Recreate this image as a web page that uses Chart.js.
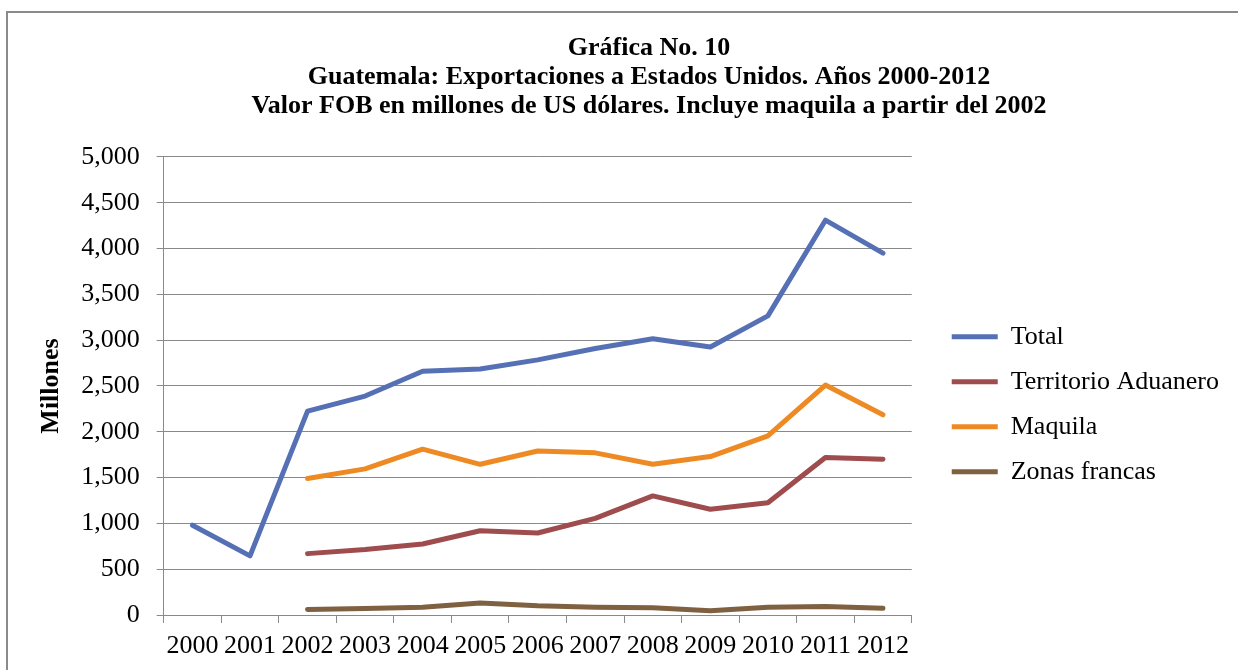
<!DOCTYPE html>
<html>
<head>
<meta charset="utf-8">
<script src="https://cdn.jsdelivr.net/npm/chart.js@4.4.1/dist/chart.umd.min.js"></script>
<style>
  html, body { margin: 0; padding: 0; background: #fff; }
  #wrap { width: 1238px; height: 670px; overflow: hidden; position: relative; }
  #myChart { display: block; }
</style>
</head>
<body>
<div id="wrap"><canvas id="myChart" width="1298" height="670"></canvas></div>
<script>
// Data (millones de US$)
var years = ['2000', '2001', '2002', '2003', '2004', '2005', '2006', '2007', '2008', '2009', '2010', '2011', '2012'];
var total = [980, 645, 2225, 2390, 2660, 2685, 2785, 2910, 3015, 2925, 3265, 4310, 3950];
var territorio = [null, null, 670, 715, 775, 920, 895, 1055, 1300, 1155, 1225, 1720, 1700];
var maquila = [null, null, 1490, 1595, 1810, 1645, 1790, 1770, 1645, 1730, 1955, 2510, 2185];
var zonas = [null, null, 60, 70, 85, 130, 100, 85, 80, 47, 85, 92, 73];
var yMin = 0, yMax = 5000, yStep = 500;

var titleLines = [
    'Gráfica No. 10',
    'Guatemala: Exportaciones a Estados Unidos. Años 2000-2012',
    'Valor FOB en millones de US dólares. Incluye maquila a partir del 2002'
];

var serif = "'Liberation Serif', 'Times New Roman', serif";
var gridGray = '#898989';

function series(label, data, color) {
    return {
        label: label,
        data: data,
        borderColor: color,
        backgroundColor: color,
        borderWidth: 5,
        borderCapStyle: 'round',
        borderJoinStyle: 'round',
        pointRadius: 0,
        pointHoverRadius: 0,
        tension: 0,
        fill: false
    };
}

// outer frame of the original figure
var framePlugin = {
    id: 'frame',
    beforeDraw: function(chart) {
        var ctx = chart.ctx;
        ctx.save();
        ctx.fillStyle = '#fff';
        ctx.fillRect(0, 0, chart.width, chart.height);
        ctx.strokeStyle = '#8a8a8a';
        ctx.lineWidth = 2;
        ctx.beginPath();
        ctx.moveTo(7, chart.height);
        ctx.lineTo(7, 12);
        ctx.lineTo(chart.width, 12);
        ctx.stroke();
        ctx.restore();
    }
};

// legend box: full width for the labels plus some room on its right
var legendShift = {
    id: 'legendShift',
    beforeLayout: function(chart) {
        var lg = chart.legend;
        if (lg && !lg._shifted) {
            var fit = lg.fit;
            lg.fit = function() {
                fit.call(this);
                var c = this.ctx;
                var labels = this.options.labels;
                c.save();
                c.font = labels.font.size + 'px ' + serif;
                var w = 0;
                this.legendItems.forEach(function(it) {
                    w = Math.max(w, c.measureText(it.text).width);
                });
                c.restore();
                this.width = labels.padding + labels.pointStyleWidth + labels.font.size / 2 + w + 10 + 37;
            };
            lg._shifted = true;
        }
    }
};

var ctx = document.getElementById('myChart').getContext('2d');
var myChart = new Chart(ctx, {
    type: 'line',
    data: {
        labels: years,
        datasets: [
            series('Total', total, '#5670B5'),
            series('Territorio Aduanero', territorio, '#9F4C4E'),
            series('Maquila', maquila, '#EE8A24'),
            series('Zonas francas', zonas, '#7F6041')
        ]
    },
    options: {
        responsive: false,
        animation: false,
        spanGaps: false,
        layout: { padding: { left: 32, right: 32, top: 0, bottom: 1 } },
        plugins: {
            tooltip: { enabled: false },
            title: {
                display: true,
                text: titleLines,
                color: '#000',
                font: { family: serif, size: 26, weight: 'bold', lineHeight: 1.115 },
                padding: { top: 34, bottom: 36 }
            },
            legend: {
                position: 'right',
                fullSize: false,
                title: { display: true, text: '', font: { size: 27 }, padding: 2 },
                labels: {
                    usePointStyle: true,
                    pointStyle: 'line',
                    pointStyleWidth: 46,
                    padding: 19,
                    color: '#000',
                    font: { family: serif, size: 26 }
                }
            }
        },
        scales: {
            x: {
                offset: true,
                grid: {
                    offset: true,
                    drawOnChartArea: false,
                    tickLength: 8,
                    color: gridGray
                },
                border: { display: true, color: gridGray, width: 1 },
                ticks: {
                    color: '#000',
                    font: { family: serif, size: 26, lineHeight: 1.0 },
                    padding: 10,
                    autoSkip: false,
                    maxRotation: 0,
                    minRotation: 0
                }
            },
            y: {
                min: yMin,
                max: yMax,
                grid: { color: gridGray, tickLength: 7 },
                border: { display: true, color: gridGray, width: 1 },
                ticks: {
                    stepSize: yStep,
                    color: '#000',
                    padding: 17,
                    font: { family: serif, size: 26 },
                    callback: function(v) { return v.toLocaleString('en-US'); }
                },
                title: {
                    display: true,
                    text: 'Millones',
                    color: '#000',
                    font: { family: serif, size: 26, weight: 'bold' },
                    padding: { top: 4, bottom: -3 }
                }
            },
            gap: {
                type: 'linear',
                position: 'right',
                display: true,
                grid: { display: false, drawTicks: false },
                border: { display: false },
                ticks: { display: false },
                afterFit: function(s) { s.width = 21; }
            }
        }
    },
    plugins: [framePlugin, legendShift]
});
</script>
</body>
</html>
